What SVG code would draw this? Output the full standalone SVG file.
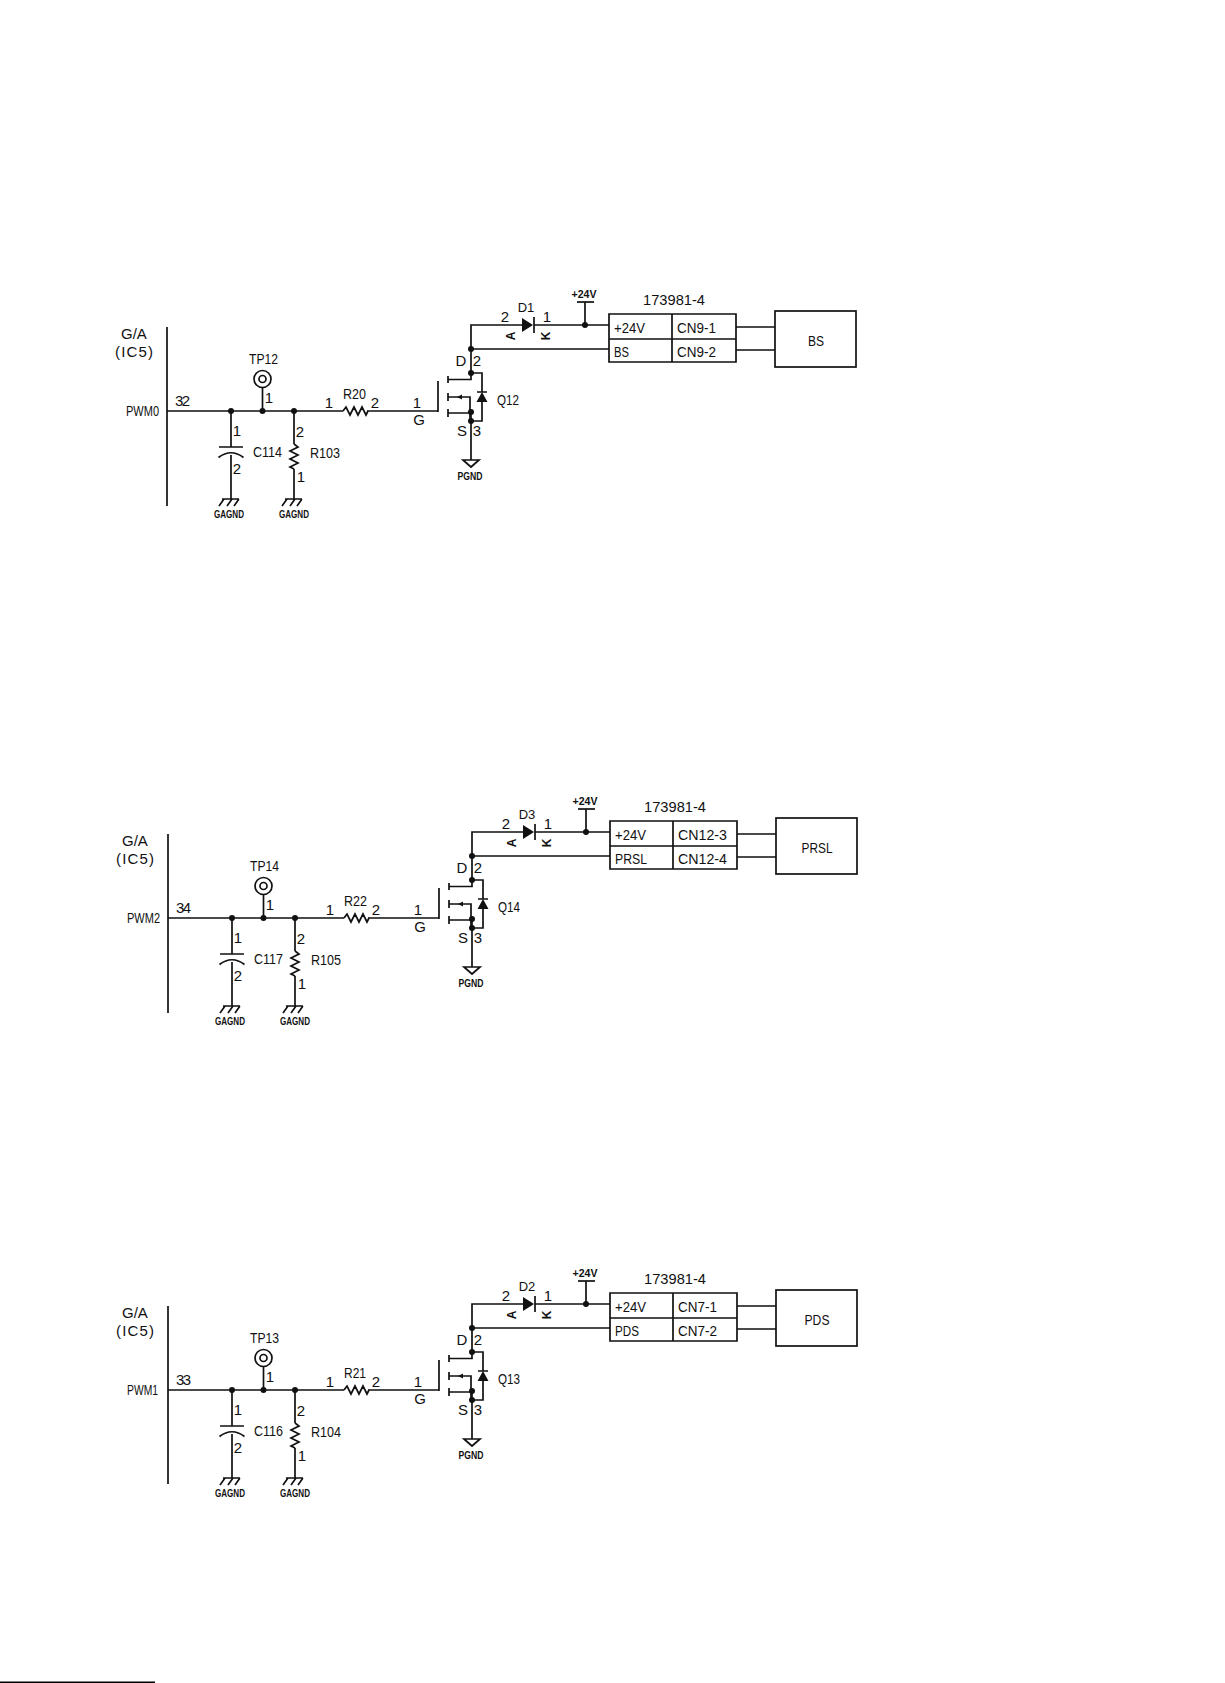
<svg xmlns="http://www.w3.org/2000/svg" width="1225" height="1683" viewBox="0 0 1225 1683">
<style>
.l{fill:none;stroke:#111;stroke-width:1.7}
.f{fill:#111;stroke:none}
text{font-family:"Liberation Sans",Arial,sans-serif;font-size:15px;fill:#111}
.m{text-anchor:middle}
.s{font-size:10px;font-weight:bold;text-anchor:middle}
.k{font-size:12px;text-anchor:middle;font-weight:bold}
.d{font-size:13px;text-anchor:middle}
</style>
<defs>
<g id="gnd-ag"><path class="l" d="M-9 0H8M-7 0l-5 7M1 0l-5 7M8 0l-5 7"/></g>
<g id="gnd-p"><path class="l" d="M-8 0H8L0 7Z"/></g>
<g id="cap"><path class="l" d="M219 447H243M218.500 457.500Q231 448 243.500 457.500"/></g>
<g id="res-h"><path class="l" d="M343 411l3-4 4 8 4-8 4 8 4-8 4 8 2-4"/></g>
<g id="res-v"><path class="l" d="M294 444l4 3-8 4 8 4-8 4 8 4-8 4 4 2"/></g>
<g id="fet">
<path class="l" d="M438 381V412M448 376V383M448 393V401M448 409V417M448 379.500H471V373M448 397H470V421M448 413H471M471 373H482V392M482 402V421H471M477 392H487"/>
<path class="f" d="M482 392L487.500 402H476.500ZM457 397l5-2.500v5Z"/>
</g>
<g id="diode"><path class="l" d="M534 317V333"/><path class="f" d="M522 318L533 325L522 332Z"/></g>
<g id="conn"><path class="l" d="M609 314H736V362H609ZM609 339H736M672 314V362"/></g>
<g id="load"><rect class="l" x="775" y="311" width="81" height="56"/></g>
<g id="tp"><circle class="l" cx="262.500" cy="379" r="8.500"/><circle class="l" cx="262.500" cy="379" r="3.500"/></g>
</defs>
<rect width="1225" height="1683" fill="#fff"/>
<rect id="page-edge" x="0" y="1681.500" width="155" height="1.500" fill="#000"/>

<g id="connectors">
<g transform="translate(0 0)">
<path class="l" d="M167 411H343M367 411H438M231 411V447M231 455V499M262.500 411V387M294 411V444M294 469V499M471 349V325H522M534 325H609M585 325V302M471 349H609M471 349V373M471 412V460M736 327H775M736 350H775"/>
<g class="f"><circle cx="231" cy="411" r="3"/><circle cx="262.500" cy="411" r="3"/><circle cx="294" cy="411" r="3"/><circle cx="471" cy="349" r="3"/><circle cx="471" cy="373" r="3"/><circle cx="471" cy="412" r="3"/><circle cx="471" cy="421" r="3"/><circle cx="585" cy="325" r="3"/></g>
</g>
<g transform="translate(1 507)">
<path class="l" d="M167 411H343M367 411H438M231 411V447M231 455V499M262.500 411V387M294 411V444M294 469V499M471 349V325H522M534 325H609M585 325V302M471 349H609M471 349V373M471 412V460M736 327H775M736 350H775"/>
<g class="f"><circle cx="231" cy="411" r="3"/><circle cx="262.500" cy="411" r="3"/><circle cx="294" cy="411" r="3"/><circle cx="471" cy="349" r="3"/><circle cx="471" cy="373" r="3"/><circle cx="471" cy="412" r="3"/><circle cx="471" cy="421" r="3"/><circle cx="585" cy="325" r="3"/></g>
</g>
<g transform="translate(1 979)">
<path class="l" d="M167 411H343M367 411H438M231 411V447M231 455V499M262.500 411V387M294 411V444M294 469V499M471 349V325H522M534 325H609M585 325V302M471 349H609M471 349V373M471 412V460M736 327H775M736 350H775"/>
<g class="f"><circle cx="231" cy="411" r="3"/><circle cx="262.500" cy="411" r="3"/><circle cx="294" cy="411" r="3"/><circle cx="471" cy="349" r="3"/><circle cx="471" cy="373" r="3"/><circle cx="471" cy="412" r="3"/><circle cx="471" cy="421" r="3"/><circle cx="585" cy="325" r="3"/></g>
</g>
</g>

<g id="block1">
<g id="b1-ic"><path class="l" d="M167 327V506"/><text x="121" y="339">G/A</text><text x="115" y="357" textLength="38">(IC5)</text><text x="126" y="416" textLength="33" lengthAdjust="spacingAndGlyphs">PWM0</text><text x="175" y="406" textLength="15">32</text></g>
<g id="b1-tp"><use href="#tp"/><text x="249" y="364" textLength="29" lengthAdjust="spacingAndGlyphs">TP12</text><text class="m" x="269" y="403">1</text></g>
<g id="b1-c"><use href="#cap"/><text class="m" x="237" y="436">1</text><text class="m" x="237" y="474">2</text><text x="253" y="457" textLength="29" lengthAdjust="spacingAndGlyphs">C114</text></g>
<g id="b1-rv"><use href="#res-v"/><text class="m" x="300" y="437">2</text><text class="m" x="301" y="482">1</text><text x="310" y="458" textLength="30" lengthAdjust="spacingAndGlyphs">R103</text></g>
<g id="b1-rh"><use href="#res-h"/><text class="m" x="329" y="408">1</text><text x="343" y="399" textLength="23" lengthAdjust="spacingAndGlyphs">R20</text><text class="m" x="375" y="408">2</text></g>
<g id="b1-q"><use href="#fet"/><text class="m" x="417" y="408">1</text><text class="m" x="419" y="425">G</text><text class="m" x="461" y="366">D</text><text class="m" x="477" y="366">2</text><text class="m" x="462" y="436">S</text><text class="m" x="477" y="436">3</text><text x="497" y="405" textLength="22" lengthAdjust="spacingAndGlyphs">Q12</text></g>
<g id="b1-g1"><use href="#gnd-ag" x="231" y="499"/><text class="s" x="229" y="518" textLength="30" lengthAdjust="spacingAndGlyphs">GAGND</text></g>
<g id="b1-g2"><use href="#gnd-ag" x="294" y="499"/><text class="s" x="294" y="518" textLength="30" lengthAdjust="spacingAndGlyphs">GAGND</text></g>
<g id="b1-g3"><use href="#gnd-p" x="471" y="460"/><text class="s" x="470" y="480" textLength="25" lengthAdjust="spacingAndGlyphs">PGND</text></g>
<g id="b1-d"><use href="#diode"/><text class="d" x="526" y="312">D1</text><text class="m" x="505" y="322">2</text><text class="m" x="547" y="322">1</text><text class="k" transform="rotate(-90 511 336)" x="511" y="340">A</text><text class="k" transform="rotate(-90 546 336)" x="546" y="340">K</text></g>
<g id="b1-v"><path class="l" d="M577 302H594"/><text class="s" x="584" y="298" textLength="25" lengthAdjust="spacingAndGlyphs">+24V</text></g>
<g id="b1-cn"><use href="#conn"/><text x="643" y="305" textLength="62" lengthAdjust="spacingAndGlyphs">173981-4</text><text x="614" y="333" textLength="31" lengthAdjust="spacingAndGlyphs">+24V</text><text x="677" y="333" textLength="39" lengthAdjust="spacingAndGlyphs">CN9-1</text><text x="614" y="357" textLength="15" lengthAdjust="spacingAndGlyphs">BS</text><text x="677" y="357" textLength="39" lengthAdjust="spacingAndGlyphs">CN9-2</text></g>
<g id="b1-load"><use href="#load"/><text class="m" x="816" y="346" textLength="16" lengthAdjust="spacingAndGlyphs">BS</text></g>
</g>

<g id="block2" transform="translate(1 507)">
<g id="b2-ic"><path class="l" d="M167 327V506"/><text x="121" y="339">G/A</text><text x="115" y="357" textLength="38">(IC5)</text><text x="126" y="416" textLength="33" lengthAdjust="spacingAndGlyphs">PWM2</text><text x="175" y="406" textLength="15">34</text></g>
<g id="b2-tp"><use href="#tp"/><text x="249" y="364" textLength="29" lengthAdjust="spacingAndGlyphs">TP14</text><text class="m" x="269" y="403">1</text></g>
<g id="b2-c"><use href="#cap"/><text class="m" x="237" y="436">1</text><text class="m" x="237" y="474">2</text><text x="253" y="457" textLength="29" lengthAdjust="spacingAndGlyphs">C117</text></g>
<g id="b2-rv"><use href="#res-v"/><text class="m" x="300" y="437">2</text><text class="m" x="301" y="482">1</text><text x="310" y="458" textLength="30" lengthAdjust="spacingAndGlyphs">R105</text></g>
<g id="b2-rh"><use href="#res-h"/><text class="m" x="329" y="408">1</text><text x="343" y="399" textLength="23" lengthAdjust="spacingAndGlyphs">R22</text><text class="m" x="375" y="408">2</text></g>
<g id="b2-q"><use href="#fet"/><text class="m" x="417" y="408">1</text><text class="m" x="419" y="425">G</text><text class="m" x="461" y="366">D</text><text class="m" x="477" y="366">2</text><text class="m" x="462" y="436">S</text><text class="m" x="477" y="436">3</text><text x="497" y="405" textLength="22" lengthAdjust="spacingAndGlyphs">Q14</text></g>
<g id="b2-g1"><use href="#gnd-ag" x="231" y="499"/><text class="s" x="229" y="518" textLength="30" lengthAdjust="spacingAndGlyphs">GAGND</text></g>
<g id="b2-g2"><use href="#gnd-ag" x="294" y="499"/><text class="s" x="294" y="518" textLength="30" lengthAdjust="spacingAndGlyphs">GAGND</text></g>
<g id="b2-g3"><use href="#gnd-p" x="471" y="460"/><text class="s" x="470" y="480" textLength="25" lengthAdjust="spacingAndGlyphs">PGND</text></g>
<g id="b2-d"><use href="#diode"/><text class="d" x="526" y="312">D3</text><text class="m" x="505" y="322">2</text><text class="m" x="547" y="322">1</text><text class="k" transform="rotate(-90 511 336)" x="511" y="340">A</text><text class="k" transform="rotate(-90 546 336)" x="546" y="340">K</text></g>
<g id="b2-v"><path class="l" d="M577 302H594"/><text class="s" x="584" y="298" textLength="25" lengthAdjust="spacingAndGlyphs">+24V</text></g>
<g id="b2-cn"><use href="#conn"/><text x="643" y="305" textLength="62" lengthAdjust="spacingAndGlyphs">173981-4</text><text x="614" y="333" textLength="31" lengthAdjust="spacingAndGlyphs">+24V</text><text x="677" y="333" textLength="49" lengthAdjust="spacingAndGlyphs">CN12-3</text><text x="614" y="357" textLength="32" lengthAdjust="spacingAndGlyphs">PRSL</text><text x="677" y="357" textLength="49" lengthAdjust="spacingAndGlyphs">CN12-4</text></g>
<g id="b2-load"><use href="#load"/><text class="m" x="816" y="346" textLength="31" lengthAdjust="spacingAndGlyphs">PRSL</text></g>
</g>

<g id="block3" transform="translate(1 979)">
<g id="b3-ic"><path class="l" d="M167 327V505"/><text x="121" y="339">G/A</text><text x="115" y="357" textLength="38">(IC5)</text><text x="126" y="416" textLength="31" lengthAdjust="spacingAndGlyphs">PWM1</text><text x="175" y="406" textLength="15">33</text></g>
<g id="b3-tp"><use href="#tp"/><text x="249" y="364" textLength="29" lengthAdjust="spacingAndGlyphs">TP13</text><text class="m" x="269" y="403">1</text></g>
<g id="b3-c"><use href="#cap"/><text class="m" x="237" y="436">1</text><text class="m" x="237" y="474">2</text><text x="253" y="457" textLength="29" lengthAdjust="spacingAndGlyphs">C116</text></g>
<g id="b3-rv"><use href="#res-v"/><text class="m" x="300" y="437">2</text><text class="m" x="301" y="482">1</text><text x="310" y="458" textLength="30" lengthAdjust="spacingAndGlyphs">R104</text></g>
<g id="b3-rh"><use href="#res-h"/><text class="m" x="329" y="408">1</text><text x="343" y="399" textLength="22" lengthAdjust="spacingAndGlyphs">R21</text><text class="m" x="375" y="408">2</text></g>
<g id="b3-q"><use href="#fet"/><text class="m" x="417" y="408">1</text><text class="m" x="419" y="425">G</text><text class="m" x="461" y="366">D</text><text class="m" x="477" y="366">2</text><text class="m" x="462" y="436">S</text><text class="m" x="477" y="436">3</text><text x="497" y="405" textLength="22" lengthAdjust="spacingAndGlyphs">Q13</text></g>
<g id="b3-g1"><use href="#gnd-ag" x="231" y="499"/><text class="s" x="229" y="518" textLength="30" lengthAdjust="spacingAndGlyphs">GAGND</text></g>
<g id="b3-g2"><use href="#gnd-ag" x="294" y="499"/><text class="s" x="294" y="518" textLength="30" lengthAdjust="spacingAndGlyphs">GAGND</text></g>
<g id="b3-g3"><use href="#gnd-p" x="471" y="460"/><text class="s" x="470" y="480" textLength="25" lengthAdjust="spacingAndGlyphs">PGND</text></g>
<g id="b3-d"><use href="#diode"/><text class="d" x="526" y="312">D2</text><text class="m" x="505" y="322">2</text><text class="m" x="547" y="322">1</text><text class="k" transform="rotate(-90 511 336)" x="511" y="340">A</text><text class="k" transform="rotate(-90 546 336)" x="546" y="340">K</text></g>
<g id="b3-v"><path class="l" d="M577 302H594"/><text class="s" x="584" y="298" textLength="25" lengthAdjust="spacingAndGlyphs">+24V</text></g>
<g id="b3-cn"><use href="#conn"/><text x="643" y="305" textLength="62" lengthAdjust="spacingAndGlyphs">173981-4</text><text x="614" y="333" textLength="31" lengthAdjust="spacingAndGlyphs">+24V</text><text x="677" y="333" textLength="39" lengthAdjust="spacingAndGlyphs">CN7-1</text><text x="614" y="357" textLength="24" lengthAdjust="spacingAndGlyphs">PDS</text><text x="677" y="357" textLength="39" lengthAdjust="spacingAndGlyphs">CN7-2</text></g>
<g id="b3-load"><use href="#load"/><text class="m" x="816" y="346" textLength="25" lengthAdjust="spacingAndGlyphs">PDS</text></g>
</g>
</svg>
